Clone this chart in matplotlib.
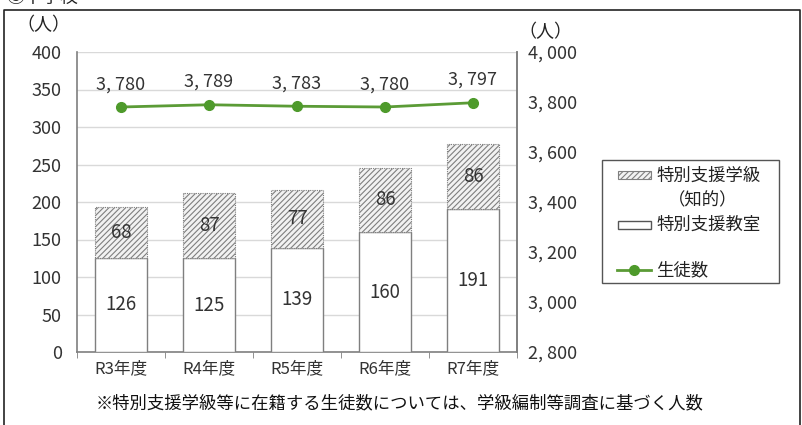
import matplotlib
matplotlib.use("Agg")
import matplotlib.pyplot as plt
from matplotlib.patches import Rectangle
from matplotlib.lines import Line2D

plt.rcParams['font.family'] = ['Noto Sans CJK JP', 'DejaVu Sans']
plt.rcParams['hatch.color'] = '#808080'
plt.rcParams['hatch.linewidth'] = 0.8

categories = ['R3年度', 'R4年度', 'R5年度', 'R6年度', 'R7年度']
shitsu = [126, 125, 139, 160, 191]      # 特別支援教室
kyu = [68, 87, 77, 86, 86]              # 特別支援学級（知的）
students = [3780, 3789, 3783, 3780, 3797]  # 生徒数
left_ticks = [0, 50, 100, 150, 200, 250, 300, 350, 400]
right_ticks = [2800, 3000, 3200, 3400, 3600, 3800, 4000]

W, H = 802, 425
fig = plt.figure(figsize=(W/100, H/100), dpi=100)

def fx(x): return x / W
def fy(y): return 1 - y / H

ax = fig.add_axes([fx(77), fy(352), (517-77)/W, (352-52)/H])
x = list(range(len(categories)))
txtc = '#333333'
ax.bar(x, shitsu, width=0.6, color='white', edgecolor='#7f7f7f', linewidth=1.0, zorder=3)
ax.bar(x, kyu, width=0.6, bottom=shitsu, color='#f2f2f2', edgecolor='#7f7f7f',
       hatch='//////', linewidth=0.8, linestyle=(0, (1, 1)), zorder=3)
for i in x:
    ax.text(i, shitsu[i]/2, str(shitsu[i]), ha='center', va='center', fontsize=13.5,
            color=txtc, zorder=5)
    ax.text(i, shitsu[i] + kyu[i]/2, str(kyu[i]), ha='center', va='center', fontsize=13.5,
            color=txtc, zorder=5)
ax.set_ylim(0, 400)
ax.set_xlim(-0.5, 4.5)
ax.set_yticks(left_ticks)
ax.set_yticklabels([str(t) for t in left_ticks], fontsize=13, color=txtc)
ax.yaxis.grid(True, color='#d9d9d9', linewidth=1.0, zorder=0)
ax.set_axisbelow(True)
ax.set_xticks(x)
ax.set_xticklabels(categories, fontsize=12, color=txtc)
ax.tick_params(axis='x', length=0, pad=6)
ax.set_xticks([0.5, 1.5, 2.5, 3.5, -0.5, 4.5], minor=True)
ax.tick_params(axis='x', which='minor', length=4, color='#7f7f7f')
ax.tick_params(axis='y', length=0, pad=11)
ax.spines['top'].set_visible(False)
for s in ['left', 'bottom', 'right']:
    ax.spines[s].set_color('#7f7f7f')
    ax.spines[s].set_linewidth(1.2)

ax2 = ax.twinx()
ax2.set_ylim(2800, 4000)
ax2.set_yticks(right_ticks)
ax2.set_yticklabels([f"{t//1000}, {t%1000:03d}" for t in right_ticks], fontsize=13, color=txtc)
ax2.tick_params(axis='y', length=0, pad=8)
for s in ['top', 'left', 'bottom']:
    ax2.spines[s].set_visible(False)
ax2.spines['right'].set_color('#7f7f7f')
ax2.spines['right'].set_linewidth(1.2)
green = '#5b9b36'
ax2.plot(x, students, color=green, linewidth=2, marker='o', markersize=7,
         markerfacecolor='#4e9a2b', markeredgecolor='#4e9a2b', zorder=6)
for i in x:
    ax2.text(i, students[i] + 55, f"{students[i]//1000}, {students[i]%1000:03d}",
             ha='center', va='bottom', fontsize=13, color=txtc)

# unit labels
fig.text(fx(43), fy(25), '（人）', ha='center', va='center', fontsize=13, color='#222222')
fig.text(fx(545), fy(32), '（人）', ha='center', va='center', fontsize=13, color='#222222')

# legend box
fig.patches.append(Rectangle((fx(602), fy(283)), (779-602)/W, (283-160)/H, transform=fig.transFigure,
                             fill=False, edgecolor='#555555', linewidth=1.0))
fig.patches.append(Rectangle((fx(618), fy(179)), 33/W, 8/H, transform=fig.transFigure,
                             facecolor='#f2f2f2', edgecolor='#7f7f7f', hatch='//////', linewidth=0.8))
fig.text(fx(656), fy(176), '特別支援学級', ha='left', va='center', fontsize=12.5, color='#222222')
fig.text(fx(668), fy(200), '（知的）', ha='left', va='center', fontsize=12.5, color='#222222')
fig.patches.append(Rectangle((fx(618), fy(229)), 33/W, 8/H, transform=fig.transFigure,
                             facecolor='white', edgecolor='#555555', linewidth=1.0))
fig.text(fx(656), fy(225), '特別支援教室', ha='left', va='center', fontsize=12.5, color='#222222')
fig.lines.append(Line2D([fx(617), fx(651)], [fy(270), fy(270)], transform=fig.transFigure,
                        color=green, linewidth=2))
fig.lines.append(Line2D([fx(634)], [fy(270)], transform=fig.transFigure, marker='o', markersize=7,
                        color='#4e9a2b'))
fig.text(fx(656), fy(270), '生徒数', ha='left', va='center', fontsize=12.5, color='#222222')

# footnote
fig.text(fx(400), fy(403), '※特別支援学級等に在籍する生徒数については、学級編制等調査に基づく人数',
         ha='center', va='center', fontsize=12.5, color='#111111')

# outer frame and title (partly above the visible area as in the reference)
fig.lines.append(Line2D([fx(4), fx(4), fx(800), fx(800)], [0, fy(10), fy(10), 0],
                        transform=fig.transFigure, color='#222222', linewidth=1.2))
fig.text(fx(6), fy(-2), '③中学校', ha='left', va='center', fontsize=13, color='#222222')

fig.savefig('out.png', dpi=100)
